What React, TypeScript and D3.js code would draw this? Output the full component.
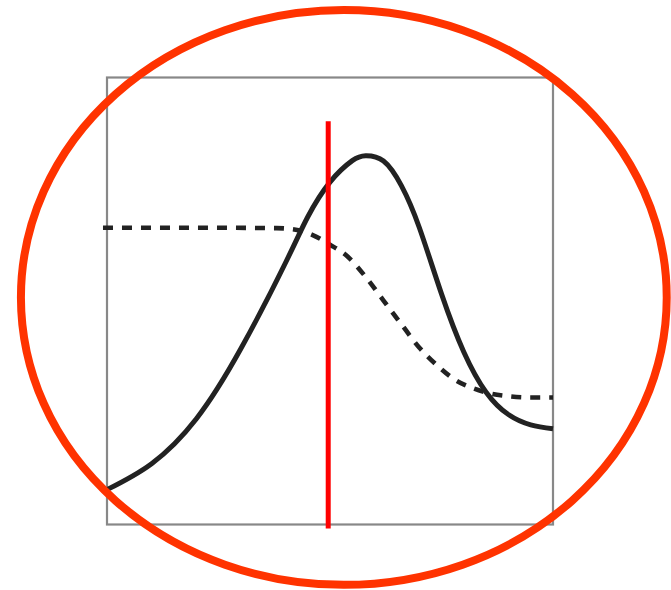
import React from 'react';
import * as d3 from 'd3';

// solid curve (0-100 on both axes)
const solidX = [0, 10, 20, 30, 40, 45, 50, 55, 58, 62, 66, 70, 75, 80, 85, 90, 95, 100];
const solidY = [7.8, 13.6, 23.6, 39.3, 58.5, 68.8, 76.6, 81.4, 82.5, 81.3, 75.8, 66.5, 51.6, 38.6, 29.6, 24.6, 22.3, 21.4];

// dashed curve
const dashX = [-0.9, 20, 38, 42, 46, 50, 54, 58, 62, 66, 70, 74, 78, 82, 86, 90, 95, 100];
const dashY = [66.4, 66.4, 66.3, 66, 64.8, 62.6, 59.9, 55.4, 50.1, 44.8, 39.6, 35.6, 32.4, 30.5, 29.3, 28.7, 28.4, 28.4];

// red marker line
const markerX = 49.6;
const markerTop = 90.2;
const markerBottom = -0.9;

// orange ring around the chart
const ringCenter = [53.1, 50.8];
const ringRadius = [72.4, 64.3];

const W = 671;
const H = 590;

export default function App() {
  const x = d3.scaleLinear().domain([0, 100]).range([107, 553]);
  const y = d3.scaleLinear().domain([0, 100]).range([524.5, 77.5]);

  const solid = solidX.map((v, i) => [v, solidY[i]] as [number, number]);
  const dashed = dashX.map((v, i) => [v, dashY[i]] as [number, number]);

  const solidLine = d3.line<[number, number]>()
    .x(d => x(d[0]))
    .y(d => y(d[1]))
    .curve(d3.curveNatural);

  const dashLine = d3.line<[number, number]>()
    .x(d => x(d[0]))
    .y(d => y(d[1]))
    .curve(d3.curveMonotoneX);

  const cx = x(ringCenter[0]);
  const cy = y(ringCenter[1]);
  const rx = x(ringCenter[0] + ringRadius[0]) - cx;
  const ry = cy - y(ringCenter[1] + ringRadius[1]);

  return (
    <svg width={W} height={H} style={{ position: 'absolute', left: 0, top: 0, background: 'white' }}>
      <rect x={x(0)} y={y(100)} width={x(100) - x(0)} height={y(0) - y(100)}
        fill="none" stroke="#888" strokeWidth={2.2} />
      <path d={dashLine(dashed) || ''} fill="none" stroke="#222" strokeWidth={4.6}
        strokeDasharray="10 9" />
      <path d={solidLine(solid) || ''} fill="none" stroke="#222" strokeWidth={5} />
      <line x1={x(markerX)} x2={x(markerX)} y1={y(markerTop)} y2={y(markerBottom)}
        stroke="#ff0000" strokeWidth={5} />
      <ellipse cx={cx} cy={cy} rx={rx} ry={ry} fill="none" stroke="#ff3300" strokeWidth={8} />
    </svg>
  );
}
